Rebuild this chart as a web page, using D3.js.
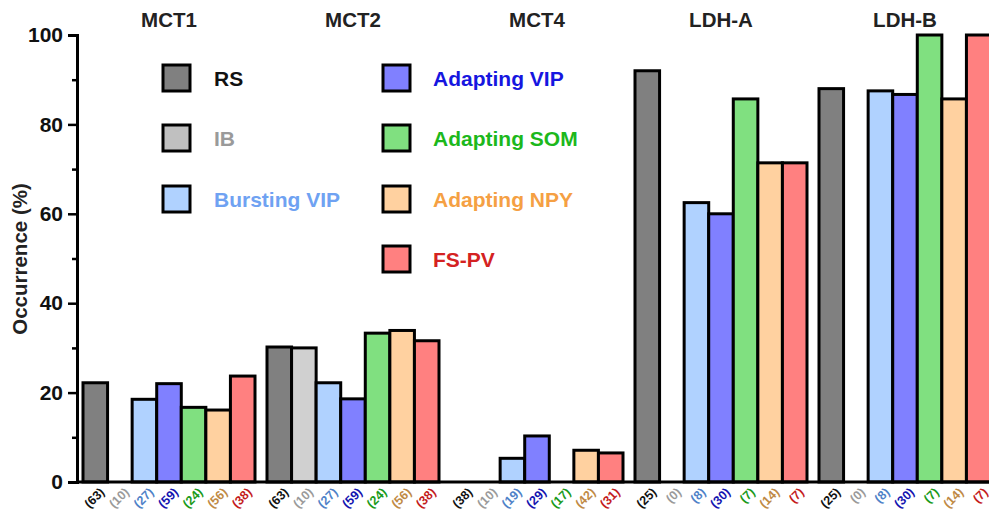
<!DOCTYPE html>
<html>
<head>
<meta charset="utf-8">
<script src="https://cdn.jsdelivr.net/npm/d3@7"></script>
<style>
  html, body { margin: 0; padding: 0; background: #fff; overflow: hidden; }
  svg { display: block; font-family: "Liberation Sans", Arial, Helvetica, sans-serif; font-weight: bold; }
</style>
</head>
<body>
<svg id="chart" width="989" height="516"></svg>
<script>
// Transporter / isoform groups along the x axis
const groups = ["MCT1", "MCT2", "MCT4", "LDH-A", "LDH-B"];

// Cell types (one bar per type inside each group)
const cellTypes = ["RS", "IB", "Bursting VIP", "Adapting VIP", "Adapting SOM", "Adapting NPY", "FS-PV"];

// Occurrence (%) for each cell type, listed in group order
const rsValues        = [22.2, 30.2, 0,    92.0, 88.0];
const ibValues        = [0,    30.0, 0,    0,    0];
const burstVipValues  = [18.5, 22.2, 5.3,  62.5, 87.5];
const adaptVipValues  = [22.0, 18.6, 10.3, 60.0, 86.7];
const somValues       = [16.7, 33.3, 0,    85.7, 100];
const npyValues       = [16.1, 33.9, 7.1,  71.4, 85.7];
const pvValues        = [23.7, 31.6, 6.5,  71.4, 100];

// Number of cells tested for each bar
const rsN       = [63, 63, 38, 25, 25];
const ibN       = [10, 10, 10, 0, 0];
const burstVipN = [27, 27, 19, 8, 8];
const adaptVipN = [59, 59, 29, 30, 30];
const somN      = [24, 24, 17, 7, 7];
const npyN      = [56, 56, 42, 14, 14];
const pvN       = [38, 38, 31, 7, 7];

// Y axis ticks
const yMajorTicks = [0, 20, 40, 60, 80, 100];
const yMinorTicks = [10, 30, 50, 70, 90];

const seriesValues = [rsValues, ibValues, burstVipValues, adaptVipValues, somValues, npyValues, pvValues];
const seriesN = [rsN, ibN, burstVipN, adaptVipN, somN, npyN, pvN];

const fillColors = ["#808080", "#d0d0d0", "#b0d2ff", "#8080ff", "#80e080", "#ffd1a0", "#ff8080"];
const legendFill = ["#808080", "#c0c0c0", "#b0d2ff", "#8080ff", "#80e080", "#ffd1a0", "#ff8080"];
const legendText = ["#111111", "#9a9a9a", "#6fa2f2", "#1616e0", "#1cb81c", "#f5a043", "#d42222"];
const nColors    = ["#111111", "#9a9a9a", "#4f82c8", "#1414b0", "#1a9a1a", "#c08a45", "#c41c1c"];

const svg = d3.select("#chart");

const y = d3.scaleLinear().domain([0, 100]).range([482, 35]);
const x0 = d3.scaleBand().domain(groups).range([77, 997])
  .paddingInner(12 / 184).paddingOuter(6 / 184);
const x1 = d3.scaleBand().domain(cellTypes).range([0, x0.bandwidth()]).padding(0);

const rows = [];
groups.forEach((g, gi) => {
  cellTypes.forEach((c, ci) => {
    rows.push({ group: g, type: c, ti: ci, value: seriesValues[ci][gi], n: seriesN[ci][gi] });
  });
});

// Bars
svg.append("g").selectAll("rect")
  .data(rows.filter(d => d.value > 0))
  .join("rect")
  .attr("x", d => x0(d.group) + x1(d.type))
  .attr("y", d => y(d.value))
  .attr("width", x1.bandwidth())
  .attr("height", d => y(0) - y(d.value))
  .attr("fill", d => fillColors[d.ti])
  .attr("stroke", "#000")
  .attr("stroke-width", 3);

// n labels under each bar
svg.append("g").selectAll("text")
  .data(rows)
  .join("text")
  .attr("transform", d => {
    const cx = x0(d.group) + x1(d.type) + x1.bandwidth() / 2 + 10;
    return `translate(${cx},${493}) rotate(-45)`;
  })
  .attr("text-anchor", "end")
  .attr("font-size", 12.5)
  .attr("fill", d => nColors[d.ti])
  .text(d => `(${d.n})`);

// Y axis
const yAxis = d3.axisLeft(y).tickValues(yMajorTicks).tickSize(9).tickPadding(5);
const yg = svg.append("g").attr("transform", "translate(77,0)").call(yAxis);
yg.select(".domain").attr("stroke-width", 3).attr("stroke", "#000");
yg.selectAll(".tick line").attr("stroke-width", 2.5);
yg.selectAll(".tick text").attr("font-size", 21).attr("font-weight", "bold")
  .attr("font-family", "Liberation Sans, Arial, sans-serif").attr("fill", "#111");

const yMinor = d3.axisLeft(y).tickValues(yMinorTicks).tickSize(5).tickFormat("");
const ym = svg.append("g").attr("transform", "translate(77,0)").call(yMinor);
ym.select(".domain").remove();
ym.selectAll(".tick line").attr("stroke-width", 2.5);

// X axis baseline
svg.append("line")
  .attr("x1", 76).attr("x2", 989)
  .attr("y1", y(0)).attr("y2", y(0))
  .attr("stroke", "#000").attr("stroke-width", 3);

// Y axis title
svg.append("text")
  .attr("transform", `translate(27,${259}) rotate(-90)`)
  .attr("text-anchor", "middle")
  .attr("font-size", 20.5)
  .attr("fill", "#222")
  .text("Occurrence (%)");

// Group titles
svg.append("g").selectAll("text")
  .data(groups)
  .join("text")
  .attr("x", d => x0(d) + x0.bandwidth() / 2)
  .attr("y", 27)
  .attr("text-anchor", "middle")
  .attr("font-size", 20.5)
  .attr("fill", "#222")
  .text(d => d);

// Legend (two columns)
const legendPos = [
  [163, 78], [163, 138], [163, 199],
  [383, 78], [383, 138], [383, 199], [383, 259]
];
const lg = svg.append("g").selectAll("g")
  .data(cellTypes)
  .join("g")
  .attr("transform", (d, i) => `translate(${legendPos[i][0]},${legendPos[i][1]})`);
lg.append("rect")
  .attr("x", 0).attr("y", -13)
  .attr("width", 27).attr("height", 26)
  .attr("fill", (d, i) => legendFill[i])
  .attr("stroke", "#000").attr("stroke-width", 3);
lg.append("text")
  .attr("x", (d, i) => i < 3 ? 51 : 50)
  .attr("y", 0)
  .attr("dy", "0.36em")
  .attr("font-size", 21)
  .attr("fill", (d, i) => legendText[i])
  .text(d => d);
</script>
</body>
</html>
